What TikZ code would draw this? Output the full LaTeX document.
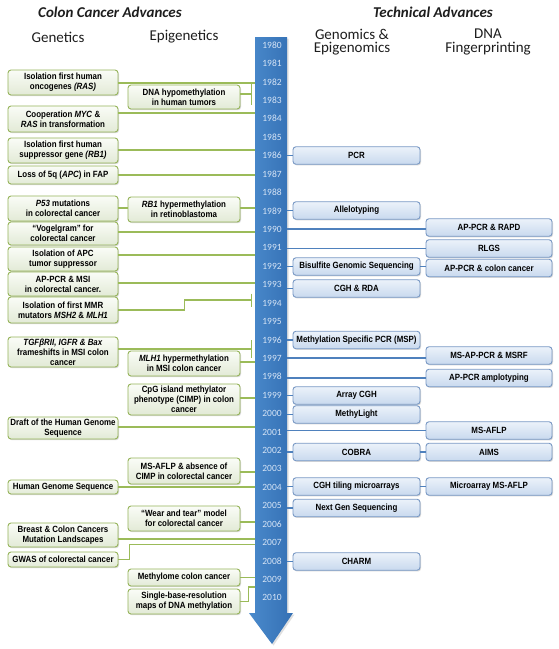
\documentclass[tikz,border=0pt]{standalone}
\usepackage{fontspec}
\setmainfont{Liberation Sans}[FakeStretch=0.88]
\newfontfamily\hdrfont{Carlito}
\usetikzlibrary{arrows.meta,shadows}
\definecolor{cGL}{RGB}{155,187,89}
\definecolor{cGB}{RGB}{150,180,90}
\definecolor{cGtop}{RGB}{250,252,247}
\definecolor{cGbot}{RGB}{226,234,214}
\definecolor{cBL}{RGB}{79,129,189}
\definecolor{cBB}{RGB}{120,152,196}
\definecolor{cBtop}{RGB}{236,242,250}
\definecolor{cBbot}{RGB}{200,217,238}
\definecolor{cArrL}{RGB}{74,138,204}
\definecolor{cArrR}{RGB}{52,112,180}
\definecolor{cYear}{RGB}{214,228,246}
\definecolor{cHdr}{RGB}{30,30,30}
\tikzset{
  every node/.style={inner sep=0.5pt, align=center, font=\bfseries\fontsize{9}{10}\selectfont},
  gb/.style={draw=cGB, line width=0.9pt, rounded corners=3pt, top color=cGtop, bottom color=cGbot,
    drop shadow={opacity=0.3, shadow xshift=1pt, shadow yshift=-1.2pt}, minimum width=110pt},
  eb/.style={gb, minimum width=112pt},
  tb/.style={draw=cBB, line width=0.9pt, rounded corners=3pt, top color=cBtop, bottom color=cBbot,
    drop shadow={opacity=0.3, shadow xshift=1pt, shadow yshift=-1.2pt}, minimum width=127pt, minimum height=17.5pt},
  fb/.style={tb, minimum width=126pt},
  gl/.style={draw=cGL, line width=1.1pt},
  bl/.style={draw=cBL, line width=1.1pt},
  hdr/.style={text=cHdr, font=\hdrfont\fontsize{15}{13.5}\selectfont},
  ttl/.style={text=cHdr, font=\hdrfont\bfseries\itshape\fontsize{15}{16}\selectfont},
  yr/.style={text=cYear, font=\hdrfont\fontsize{9.5}{10}\selectfont},
}
\begin{document}
\begin{tikzpicture}[x=1pt,y=-1pt]
\useasboundingbox[fill=white] (0,0) rectangle (558,649);
% headers
\node[ttl] (h1) at (110,12) {Colon Cancer Advances};
\node[ttl] (h2) at (433,12) {Technical Advances};
\node[hdr] (h3) at (58,37) {Genetics};
\node[hdr] (h4) at (184,37) {Epigenetics};
\node[hdr] (h5) at (352,42) {Genomics \&\\Epigenomics};
\node[hdr] (h6) at (488,42) {DNA\\Fingerprinting};
% timeline arrow
\shade[left color=cArrL, right color=cArrR, drop shadow={opacity=0.25, shadow xshift=1.5pt, shadow yshift=-1.5pt}]
  (255,37) -- (287,37) -- (287,613) -- (293,613) -- (272,644) -- (249,613) -- (255,613) -- cycle;
\coordinate (shL) at (255,0);
\coordinate (shR) at (287,0);
\coordinate (barx) at (252,0);
\foreach \i in {0,...,30}{
  \pgfmathsetmacro\yy{45+\i*18.43}
  \pgfmathtruncatemacro\yrn{1980+\i}
  \node[yr] (y\i) at (272,\yy) {\yrn};
}
% genetics
\node[gb, minimum height=25pt] (g1) at (63,82.5) {Isolation first human\\oncogenes \textit{(RAS)}};
\node[gb, minimum height=26pt] (g2) at (63,119) {Cooperation \textit{MYC} \&\\\textit{RAS} in transformation};
\node[gb, minimum height=25pt] (g3) at (63,150.5) {Isolation first human\\suppressor gene \textit{(RB1)}};
\node[gb, minimum height=18pt] (g4) at (63,175) {Loss of 5q (\textit{APC}) in FAP};
\node[gb, minimum height=25pt] (g5) at (63,208.5) {\textit{P53} mutations\\in colorectal cancer};
\node[gb, minimum height=23pt] (g6) at (63,233.5) {“Vogelgram” for\\colorectal cancer};
\node[gb, minimum height=24pt] (g7) at (63,259) {Isolation of APC\\tumor suppressor};
\node[gb, minimum height=24pt] (g8) at (63,284) {AP-PCR \& MSI\\in colorectal cancer.};
\node[gb, minimum height=26pt] (g9) at (63,310) {Isolation of first MMR\\mutators \textit{MSH2} \& \textit{MLH1}};
\node[gb, minimum height=30pt] (g10) at (63,352) {\textit{TGFβRII, IGFR \& Bax}\\frameshifts in MSI colon\\cancer};
\node[gb, minimum height=22pt] (g11) at (63,428) {Draft of the Human Genome\\Sequence};
\node[gb, minimum height=14pt] (g12) at (63,487) {Human Genome Sequence};
\node[gb, minimum height=24pt] (g13) at (63,535) {Breast \& Colon Cancers\\Mutation Landscapes};
\node[gb, minimum height=15pt] (g14) at (63,559.5) {GWAS of colorectal cancer};
% epigenetics
\node[eb, minimum height=24pt] (e1) at (184,97) {DNA hypomethylation\\in human tumors};
\node[eb, minimum height=25pt] (e2) at (184,209.5) {\textit{RB1} hypermethylation\\in retinoblastoma};
\node[eb, minimum height=25pt] (e3) at (184,363.5) {\textit{MLH1} hypermethylation\\in MSI colon cancer};
\node[eb, minimum height=31pt] (e4) at (184,399.5) {CpG island methylator\\phenotype (CIMP) in colon\\cancer};
\node[eb, minimum height=26pt] (e5) at (184,471) {MS-AFLP \& absence of\\CIMP in colorectal cancer};
\node[eb, minimum height=25pt] (e6) at (184,518.5) {“Wear and tear” model\\for colorectal cancer};
\node[eb, minimum height=17pt] (e7) at (184,577.5) {Methylome colon cancer};
\node[eb, minimum height=25pt] (e8) at (184,601.5) {Single-base-resolution\\maps of DNA methylation};
% genomics & epigenomics
\node[tb] (t1) at (356.5,155.5) {PCR};
\node[tb] (t2) at (356.5,210.5) {Allelotyping};
\node[tb] (t3) at (356.5,266.5) {Bisulfite Genomic Sequencing};
\node[tb] (t4) at (356.5,288.5) {CGH \& RDA};
\node[tb] (t5) at (356.5,340) {Methylation Specific PCR (MSP)};
\node[tb] (t6) at (356.5,395.5) {Array CGH};
\node[tb] (t7) at (356.5,414.5) {MethyLight};
\node[tb] (t8) at (356.5,452) {COBRA};
\node[tb] (t9) at (356.5,486.5) {CGH tiling microarrays};
\node[tb] (t10) at (356.5,508) {Next Gen Sequencing};
\node[tb] (t11) at (356.5,561.5) {CHARM};
% DNA fingerprinting
\node[fb] (f1) at (489,227.5) {AP-PCR \& RAPD};
\node[fb] (f2) at (489,248.5) {RLGS};
\node[fb] (f3) at (489,268) {AP-PCR \& colon cancer};
\node[fb] (f4) at (489,355.5) {MS-AP-PCR \& MSRF};
\node[fb] (f5) at (489,378) {AP-PCR amplotyping};
\node[fb] (f6) at (489,430.5) {MS-AFLP};
\node[fb] (f7) at (489,452) {AIMS};
\node[fb] (f8) at (489,486.5) {Microarray MS-AFLP};
% left connectors
\draw[gl] (g1.east |- 0,83) -- (shL |- 0,83);
\draw[gl,-{Bar[width=22pt]}] (e1.east |- 0,94) -- (barx |- 0,94);
\draw[gl] (g2.east |- 0,113) -- (shL |- 0,113);
\draw[gl] (g3.east |- 0,150) -- (shL |- 0,150);
\draw[gl] (g4.east |- 0,175) -- (shL |- 0,175);
\draw[gl] (g5.east |- 0,208) -- (e2.west |- 0,208);
\draw[gl] (e2.east |- 0,208) -- (shL |- 0,208);
\draw[gl] (g6.east |- 0,232) -- (shL |- 0,232);
\draw[gl] (g7.east |- 0,255) -- (shL |- 0,255);
\draw[gl] (g8.east |- 0,283) -- (shL |- 0,283);
\draw[gl,-{Bar[width=13pt]}] (g9.east) -| ++(66,-10) -- (barx |- 0,300);
\draw[gl,-{Bar[width=18pt]}] (g10.east |- 0,349) -- (barx |- 0,349);
\draw[gl] (e3.east |- 0,362) -- (shL |- 0,362);
\draw[gl] (e4.east |- 0,398) -- (shL |- 0,398);
\draw[gl] (g11.east |- 0,427) -- (shL |- 0,427);
\draw[gl] (e5.east |- 0,472) -- (shL |- 0,472);
\draw[gl] (g12.east |- 0,487) -- (shL |- 0,487);
\draw[gl] (e6.east |- 0,522) -- (shL |- 0,522);
\draw[gl] (g13.east |- 0,539) -- (shL |- 0,539);
\draw[gl] (g14.east) -| ++(11,-15) -- (shL |- 0,544.5);
\draw[gl] (e7.east) -- (shL |- e7.east);
\draw[gl] (e8.east) -| ++(8,-14.5) -- (shL |- 0,587);
% right connectors
\draw[bl] (shR |- t1.west) -- (t1.west);
\draw[bl] (shR |- t2.west) -- (t2.west);
\draw[bl] (shR |- 0,229) -- (f1.west |- 0,229);
\draw[bl] (shR |- f2.west) -- (f2.west);
\draw[bl] (shR |- t3.west) -- (t3.west);
\draw[bl] (t3.east) -- (f3.west |- t3.east);
\draw[bl] (shR |- t4.west) -- (t4.west);
\draw[bl] (shR |- t5.west) -- (t5.west);
\draw[bl] (shR |- 0,358) -- (f4.west |- 0,358);
\draw[bl] (shR |- f5.west) -- (f5.west);
\draw[bl] (shR |- t6.west) -- (t6.west);
\draw[bl] (shR |- t7.west) -- (t7.west);
\draw[bl] (shR |- f6.west) -- (f6.west);
\draw[bl] (shR |- t8.west) -- (t8.west);
\draw[bl] (t8.east) -- (f7.west);
\draw[bl] (shR |- t9.west) -- (t9.west);
\draw[bl] (t9.east) -- (f8.west);
\draw[bl] (shR |- t10.west) -- (t10.west);
\draw[bl] (shR |- t11.west) -- (t11.west);
\end{tikzpicture}
\end{document}
